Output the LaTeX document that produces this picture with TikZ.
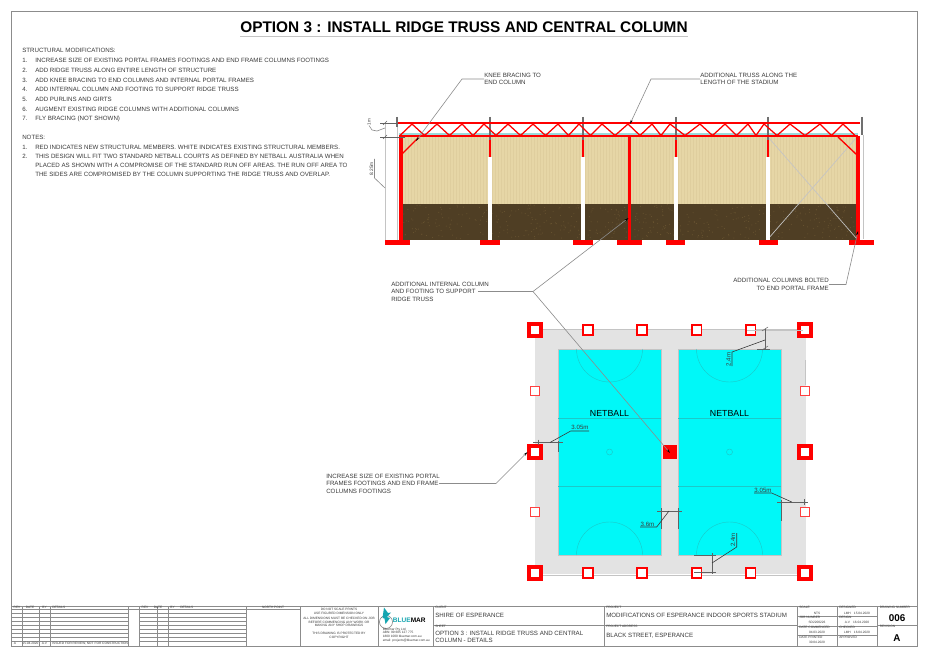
\documentclass[tikz,border=0pt]{standalone}
\usepackage{fontspec}
\setmainfont{Liberation Sans}
\usetikzlibrary{arrows.meta}
\definecolor{wallTan}{HTML}{E6D6A6}
\definecolor{wallStripe}{HTML}{DFCE9E}
\definecolor{wallBrown}{HTML}{4F3E24}
\definecolor{wallSpeck}{HTML}{6B5632}
\definecolor{inkGrey}{HTML}{3A3A3A}
\definecolor{lineGrey}{HTML}{8C8C8C}
\definecolor{paleGrey}{HTML}{C4C4C4}
\definecolor{planGrey}{HTML}{E3E3E3}
\definecolor{courtCyan}{HTML}{00F8F8}
\definecolor{courtLine}{HTML}{1CC8C8}
\definecolor{logoTeal}{HTML}{14A5B0}
\tikzset{
  heading/.style={font=\fontsize{11.54}{14}\selectfont\bfseries,text=black,inner sep=0pt},
  note/.style={font=\fontsize{4.62}{5.6}\selectfont,text=inkGrey,align=left,anchor=west,inner sep=0pt},
  noteright/.style={note,align=right,anchor=east},
  dimtext/.style={font=\fontsize{4.6}{5}\selectfont,text=inkGrey,inner sep=0pt},
  courtname/.style={font=\fontsize{6.6}{8}\selectfont,text=black,inner sep=0pt},
  tinylabel/.style={font=\fontsize{2.4}{2.9}\selectfont,text=inkGrey,align=center,inner sep=0pt},
  tinyleft/.style={tinylabel,align=left,anchor=west},
  sheettext/.style={font=\fontsize{4.62}{5.8}\selectfont,text=inkGrey,align=left,anchor=west,inner sep=0pt},
  sheetbig/.style={font=\fontsize{7.4}{8}\selectfont\bfseries,text=black,inner sep=0pt},
  leader/.style={draw=lineGrey,line width=0.45pt},
  leadertip/.style={leader,-{Stealth[length=3.2pt,width=1.6pt,color=black]}},
  dimline/.style={draw=paleGrey,line width=0.4pt},
  dimtick/.style={draw=lineGrey!70!black,line width=0.4pt},
  redbar/.style={fill=red,draw=none},
  chord/.style={draw=red,line width=1.5pt},
  web/.style={draw=red,line width=0.95pt},
  boxline/.style={draw=lineGrey,line width=0.45pt},
  padbig/.style={draw=red,fill=white,line width=2.6pt,minimum size=9.2pt,inner sep=0pt},
  padmid/.style={draw=red,fill=white,line width=1.4pt,minimum size=7.4pt,inner sep=0pt},
  padsmall/.style={draw=red!75!white,fill=white,line width=0.7pt,minimum size=6.8pt,inner sep=0pt},
}
\begin{document}
\begin{tikzpicture}[x=0.75pt,y=0.75pt,yscale=-1,xscale=1]
  \useasboundingbox (0,0) rectangle (928,656);
  \fill[white] (0,0) rectangle (928,656);

  %Sheet border
  \draw[draw=lineGrey,line width=0.7pt] (11,11) rectangle (917,646);

  % Title
  \node (title) [heading] at (464,27) {OPTION 3 : INSTALL RIDGE TRUSS AND CENTRAL COLUMN};
  \draw[draw=paleGrey,line width=0.6pt] (title.west |- 0,36) -- (title.east |- 0,36);

  % Text Node lists
  \node (modshead) [note] at (22,50.5) {STRUCTURAL MODIFICATIONS:};
  \foreach \num/\ypos/\txt in {
    1/60.3/INCREASE SIZE OF EXISTING PORTAL FRAMES FOOTINGS AND END FRAME COLUMNS FOOTINGS,
    2/70/ADD RIDGE TRUSS ALONG ENTIRE LENGTH OF STRUCTURE,
    3/80/ADD KNEE BRACING TO END COLUMNS AND INTERNAL PORTAL FRAMES,
    4/89.5/ADD INTERNAL COLUMN AND FOOTING TO SUPPORT RIDGE TRUSS,
    5/99/ADD PURLINS AND GIRTS,
    6/109/AUGMENT EXISTING RIDGE COLUMNS WITH ADDITIONAL COLUMNS,
    7/118.5/FLY BRACING (NOT SHOWN)}{
    \node (modnum\num) [note] at (22,\ypos) {\num.};
    \node (mod\num) [note] at (35,\ypos) {\txt};
  }
  \node (noteshead) [note] at (22,137.5) {NOTES:};
  \node (notenum1) [note] at (22,147) {1.};
  \node (note1) [note] at (35,147) {RED INDICATES NEW STRUCTURAL MEMBERS. WHITE INDICATES EXISTING STRUCTURAL MEMBERS.};
  \node (notenum2) [note] at (22,156.5) {2.};
  \node (note2) [note,anchor=north west,font=\fontsize{4.62}{6.9}\selectfont] at (35,153.5) {THIS DESIGN WILL FIT TWO STANDARD NETBALL COURTS AS DEFINED BY NETBALL AUSTRALIA WHEN\\PLACED AS SHOWN WITH A COMPROMISE OF THE STANDARD RUN OFF AREAS. THE RUN OFF AREA TO\\THE SIDES ARE COMPROMISED BY THE COLUMN SUPPORTING THE RIDGE TRUSS AND OVERLAP.};

  %Wall elevation
  \fill[wallTan] (403,137) rectangle (858,204);
  \foreach \x in {405,408,...,856} {\draw[wallStripe,line width=0.25pt] (\x,137) -- (\x,204);}
  \fill[wallBrown] (403,204) rectangle (858,239.5);
  \pgfmathsetseed{3}
  \foreach \i in {1,...,500} {\fill[wallSpeck] ({403+455*rnd},{204.5+34.5*rnd}) circle (0.5);}
  \draw[paleGrey,line width=0.5pt] (768,137) -- (857,239);
  \draw[paleGrey,line width=0.5pt] (768,239) -- (857,137);

  %End lines beside the frame
  \draw[dimline] (397,127) -- (397,240);
  \draw[dimline] (863,135) -- (863,239);

  %Grey strip under truss
  \fill[paleGrey!70!cyan!85!white] (399,132.6) rectangle (858,135.6);

  %Existing columns
  \foreach \x in {490,583,676,768} {
    \fill[white] (\x-1.7,157) rectangle (\x+1.7,239.5);
    \draw[draw=red,line width=0.9pt] (\x,136) -- (\x,157);
    \draw[draw=lineGrey!80!black,line width=1.7pt] (\x,117) -- (\x,140);
  }
  \draw[draw=lineGrey!80!black,line width=1.7pt] (397,117) -- (397,127);
  \draw[draw=lineGrey!80!black,line width=1.7pt] (862,117) -- (862,135);

  %Truss web
  \draw[web,line join=miter] (400,135.5) -- (412,124) -- (424.5,135.5) -- (437,124) -- (449.5,135.5) -- (462,124) -- (473,135.5) -- (484,124) -- (496,135.5)
    -- (508,124) -- (520.5,135.5) -- (533,124) -- (545.5,135.5) -- (558,124) -- (568.5,135.5) -- (579,124) -- (590.5,135.5)
    -- (602,124) -- (615,135.5) -- (628,124) -- (640,135.5) -- (652,124) -- (661,135.5) -- (670,124) -- (685,135.5)
    -- (700,124) -- (712.5,135.5) -- (725,124) -- (736.5,135.5) -- (748,124) -- (756,135.5) -- (764,124) -- (777,135.5)
    -- (790,124) -- (805,135.5) -- (820,124) -- (831.5,135.5) -- (843,124) -- (855,135.5);

  %Truss chords
  \draw[chord] (398,123.5) -- (860,123.5);
  \draw[chord] (399,136.3) -- (858,136.3);

  %New columns and knee braces
  \fill[redbar] (399,136) rectangle (403,240);
  \fill[redbar] (856,136) rectangle (860,240);
  \fill[redbar] (628.3,136) rectangle (630.5,240);
  \draw[web,line width=1pt] (401,155) -- (419,137);
  \draw[web,line width=1pt] (857,155) -- (838,137);

  %Elevation footings
  \foreach \xa/\xb in {385/410,480/500,573/593,617/642,666/685,759/778,849/874} {
    \fill[redbar] (\xa,240) rectangle (\xb,244.5);
  }

  %Elevation dimensions
  \draw[dimline] (385,123) -- (385,240);
  \draw[dimtick] (380,123) -- (398,123);
  \draw[dimtick] (380,137) -- (405,137);
  \draw[dimtick] (383,125) -- (387,121);
  \draw[dimtick] (383,139) -- (387,135);
  \node (dimone) [dimtext,rotate=90,font=\fontsize{3.4}{4}\selectfont] at (369,122) {1m};
  \coordinate (dimonea) at (372,130);
  \coordinate (dimoneb) at (377,131);
  \coordinate (dimonec) at (385,128);
  \draw[leader] (dimone.west) -- (dimonea) -- (dimoneb) -- (dimonec);
  \node (dimheight) [dimtext,rotate=90,font=\fontsize{3.6}{4}\selectfont] at (371.5,169) {8.25m};
  \coordinate (dimheighta) at (374.5,159);
  \coordinate (dimheightb) at (374.5,178);
  \coordinate (dimheightc) at (385,188);
  \draw[leader] (dimheighta) -- (dimheightb) -- (dimheightc);

  %Plan ground
  \fill[planGrey] (535,330) rectangle (805.5,574);
  \draw[dimline] (535,329) -- (805.5,329);
  \draw[dimline] (535,575) -- (805.5,575);

  %Courts
  \foreach \xa/\name in {558/courtA,678/courtB} {
    \fill[courtCyan] (\xa,349) rectangle ++(103,206);
    \draw[paleGrey,line width=0.3pt] (\xa,349) rectangle ++(103,206);
    \draw[courtLine,line width=0.35pt] (\xa,418) -- ++(103,0);
    \draw[courtLine,line width=0.35pt] (\xa,486) -- ++(103,0);
    \draw[courtLine,line width=0.35pt] (\xa+51.5,452) circle (3);
    \draw[courtLine,line width=0.3pt] (\xa+18.5,349) arc[start angle=180,end angle=360,x radius=33,y radius=-33];
    \draw[courtLine,line width=0.3pt] (\xa+18.5,555) arc[start angle=180,end angle=360,x radius=33,y radius=33];
    \node (\name) [courtname] at (\xa+51.5,413.7) {NETBALL};
  }

  %Plan footings
  \foreach \x/\y/\name in {535/330/pa,805/330/pb,535/452/pc,805/452/pd,535/573/pe,805/573/pf} {
    \node (\name) [padbig] at (\x,\y) {};
  }
  \foreach \x/\y/\name in {588/330/ma,642/330/mb,696.5/330/mc,750.5/330/md,588/573/me,642/573/mf,696.5/573/mg,750.5/573/mh} {
    \node (\name) [padmid] at (\x,\y) {};
  }
  \foreach \x/\y/\name in {534.5/391/sa,805/391/sb,534.5/512/sc,805/512/sd} {
    \node (\name) [padsmall] at (\x,\y) {};
  }
  \fill[redbar] (663,445) rectangle (677,459);

  % Call outs
  \node (kneelbl) [note] at (484,79) {KNEE BRACING TO\\END COLUMN};
  \coordinate (kneebend) at (462,79);
  \coordinate (kneetip) at (416,141);
  \draw[leadertip] (kneelbl.west) -- (kneebend) -- (kneetip);

  \node (trusslbl) [note] at (700,79) {ADDITIONAL TRUSS ALONG THE\\LENGTH OF THE STADIUM};
  \coordinate (trussbend) at (651,79);
  \coordinate (trusstip) at (630,124);
  \draw[leadertip] (trusslbl.west) -- (trussbend) -- (trusstip);

  \node (boltlbl) [noteright] at (829,284.5) {ADDITIONAL COLUMNS BOLTED\\TO END PORTAL FRAME};
  \coordinate (boltbend) at (846,284.5);
  \coordinate (bolttip) at (858,231);
  \draw[leadertip] (boltlbl.east) -- (boltbend) -- (bolttip);

  \node (internlbl) [note] at (391,291.5) {ADDITIONAL INTERNAL COLUMN\\AND FOOTING TO SUPPORT\\RIDGE TRUSS};
  \coordinate (internstart) at (478,291.5);
  \coordinate (internbend) at (533,291.5);
  \coordinate (interntipa) at (628.5,218);
  \coordinate (interntipb) at (670,453);
  \draw[leadertip] (internstart) -- (internbend) -- (interntipa);
  \draw[leadertip] (internbend) -- (interntipb);

  \node (sizelbl) [note] at (326,483.5) {INCREASE SIZE OF EXISTING PORTAL\\FRAMES FOOTINGS AND END FRAME\\COLUMNS FOOTINGS};
  \coordinate (sizestart) at (439,483.5);
  \coordinate (sizebend) at (496,483.5);
  \coordinate (sizetip) at (527.5,452);
  \draw[leadertip] (sizestart) -- (sizebend) -- (sizetip);

  %Plan dimension top right
  \draw[dimline] (747,330) -- (803,330);
  \draw[dimtick] (765,329) -- (765,349);
  \draw[dimtick] (757,349) -- (770,349);
  \draw[dimtick] (762,331) -- (768,327);
  \draw[dimtick] (762,350) -- (768,346);
  \node (dimtop) [dimtext,rotate=90] at (728.5,359.5) {2.4m};
  \coordinate (dimtopa) at (765,340);
  \coordinate (dimtopb) at (732,352);
  \coordinate (dimtopc) at (732,366);
  \draw[leader,draw=inkGrey] (dimtopa) -- (dimtopb) -- (dimtopc);

  %Plan dimension left
  \draw[dimtick] (533,442.5) -- (563,442.5);
  \draw[dimtick] (538,439.5) -- (538,445);
  \draw[dimtick] (558.5,441) -- (558.5,452);
  \node (dimleft) [dimtext] at (580,427.5) {3.05m};
  \coordinate (dimlefta) at (550,442.5);
  \coordinate (dimleftb) at (570.7,431);
  \coordinate (dimleftc) at (589,431);
  \draw[leader,draw=inkGrey] (dimlefta) -- (dimleftb) -- (dimleftc);

  %Plan dimension centre
  \draw[dimtick] (657,511) -- (682,511);
  \draw[dimtick] (661,508) -- (661,529);
  \draw[dimtick] (678,508) -- (678,529);
  \node (dimcentre) [dimtext] at (647.5,524) {3.6m};
  \coordinate (dimcentrea) at (669,511);
  \coordinate (dimcentreb) at (656.7,527);
  \coordinate (dimcentrec) at (640,527);
  \draw[leader,draw=inkGrey] (dimcentrea) -- (dimcentreb) -- (dimcentrec);

  %Plan dimension right
  \draw[dimtick] (777,502) -- (808,502);
  \draw[dimtick] (781,500) -- (781,521);
  \draw[dimtick] (804,499) -- (804,505);
  \node (dimright) [dimtext] at (763,490) {3.05m};
  \coordinate (dimrighta) at (791.7,502);
  \coordinate (dimrightb) at (771.7,493);
  \coordinate (dimrightc) at (754,493);
  \draw[leader,draw=inkGrey] (dimrighta) -- (dimrightb) -- (dimrightc);

  %Plan dimension bottom
  \draw[dimtick] (712,553) -- (712,574);
  \draw[dimtick] (694,555) -- (716,555);
  \draw[dimtick] (694,572) -- (716,572);
  \node (dimbottom) [dimtext,rotate=90] at (733,540) {2.4m};
  \coordinate (dimbottoma) at (712,563);
  \coordinate (dimbottomb) at (736.7,547);
  \coordinate (dimbottomc) at (736.7,533);
  \draw[leader,draw=inkGrey] (dimbottoma) -- (dimbottomb) -- (dimbottomc);

  %Plan edge extension
  \draw[dimline] (805,360) -- (805,385);

  %Title block frame
  \draw[boxline] (11,606) -- (917,606);
  \foreach \x in {22,39,50,128,139,157,168,246,300,378,433,604,797,837,877.5} {
    \draw[boxline] (\x,606) -- (\x,646);
  }
  \foreach \y in {609.5,613,617,621,625.3,629.3,633.7,637.7,641} {
    \draw[boxline] (11,\y) -- (128,\y);
    \draw[boxline] (139,\y) -- (246,\y);
  }
  \draw[boxline] (128,609.5) -- (139,609.5);
  \draw[boxline] (246,609.5) -- (300,609.5);
  \draw[boxline] (433,624.8) -- (797,624.8);
  \draw[boxline] (877.5,624.8) -- (917,624.8);
  \foreach \y in {616,626,635.5} {\draw[boxline] (797,\y) -- (877.5,\y);}

  % Text Node revision table
  \foreach \xoff/\tag in {0/a,128/b} {
    \node (rev\tag) [tinylabel] at (17+\xoff,607.8) {REV};
    \node (date\tag) [tinylabel] at (30+\xoff,607.8) {DATE};
    \node (by\tag) [tinylabel] at (44.5+\xoff,607.8) {BY};
    \node (details\tag) [tinylabel,anchor=west] at (52+\xoff,607.8) {DETAILS};
  }
  \node (revval) [tinylabel] at (15,643.3) {A};
  \node (dateval) [tinylabel] at (30.5,643.3) {15.04.2020};
  \node (byval) [tinylabel] at (44.5,643.3) {A.V};
  \node (detailval) [tinylabel,anchor=west] at (52,643.3) {ISSUED FOR REVIEW, NOT FOR CONSTRUCTION};
  \node (north) [tinylabel] at (273,607.8) {NORTH POINT};
  \node (warnone) [tinylabel] at (339,611) {DO NOT SCALE PRINTS\\USE FIGURED DIMENSION ONLY};
  \node (warntwo) [tinylabel] at (339,622) {ALL DIMENSIONS MUST BE CHECKED ON JOB\\BEFORE COMMENCING ANY WORK OR\\MAKING ANY SHOP DRAWINGS};
  \node (warnthree) [tinylabel] at (339,635) {THIS DRAWING IS PROTECTED BY\\COPYRIGHT};

  %Logo
  \draw[paleGrey!60!black,line width=0.4pt] (386,622) circle (6.5);
  \fill[logoTeal] (384,607.5) -- (388,613) -- (391,612.5) -- (387,617) -- (390,618) -- (385.5,624) -- (384.5,618.5) -- (382.5,618) -- cycle;
  \node (logoname) [font=\fontsize{4.9}{6}\selectfont\bfseries,inner sep=0pt,anchor=west] at (392.7,620.3) {\textcolor{logoTeal}{BLUE}\textcolor{black}{MAR}};
  \node (logoinfo) [tinyleft] at (382.5,635) {Bluemar Pty Ltd\\ABN: 99 605 127 775\\1800 1000 bluemar.com.au\\email: projects@bluemar.com.au};

  % Text Node sheet data
  \node (clientcap) [tinyleft] at (435,607.6) {CLIENT};
  \node (client) [sheettext] at (435,615.5) {SHIRE OF ESPERANCE};
  \node (sheetcap) [tinyleft] at (435,626.4) {SHEET};
  \node (sheet) [sheettext] at (435,637) {OPTION 3 : INSTALL RIDGE TRUSS AND CENTRAL\\COLUMN - DETAILS};
  \node (projectcap) [tinyleft] at (606,607.6) {PROJECT};
  \node (project) [sheettext] at (606,615.5) {MODIFICATIONS OF ESPERANCE INDOOR SPORTS STADIUM};
  \node (addresscap) [tinyleft] at (606,626.4) {PROJECT ADDRESS};
  \node (address) [sheettext] at (606,635.7) {BLACK STREET, ESPERANCE};

  \foreach \x/\y/\txt/\name in {
    799/607.6/SCALE/sclcap,
    799/617.6/JOB NUMBER/jobcap,
    799/627.6/DATE COMMENCED/comcap,
    799/637/DATE PRINTED/printcap,
    839/607.6/DESIGNED/descap,
    839/617.6/DESIGN/dracap,
    839/627.6/CHECKED/chkcap,
    839/637/APPROVED/appcap,
    879.5/607.6/DRAWING NUMBER/numcap,
    879.5/626.4/REVISION/revcap}{
    \node (\name) [tinyleft] at (\x,\y) {\txt};
  }
  \foreach \x/\y/\txt/\name in {
    817/613.5/NTS/sclval,
    817/622.5/SD2200226/jobval,
    817/632/04.03.2020/comval,
    817/642.5/30.04.2020/printval,
    857/613.5/LMH\quad 15.04.2020/desval,
    857/622.5/A.V\quad 16.04.2020/draval,
    857/632/LMH\quad 16.04.2020/chkval}{
    \node (\name) [tinylabel] at (\x,\y) {\txt};
  }
  \node (drawno) [sheetbig] at (897,617.8) {006};
  \node (revno) [sheetbig] at (897,638) {A};
\end{tikzpicture}
\end{document}
